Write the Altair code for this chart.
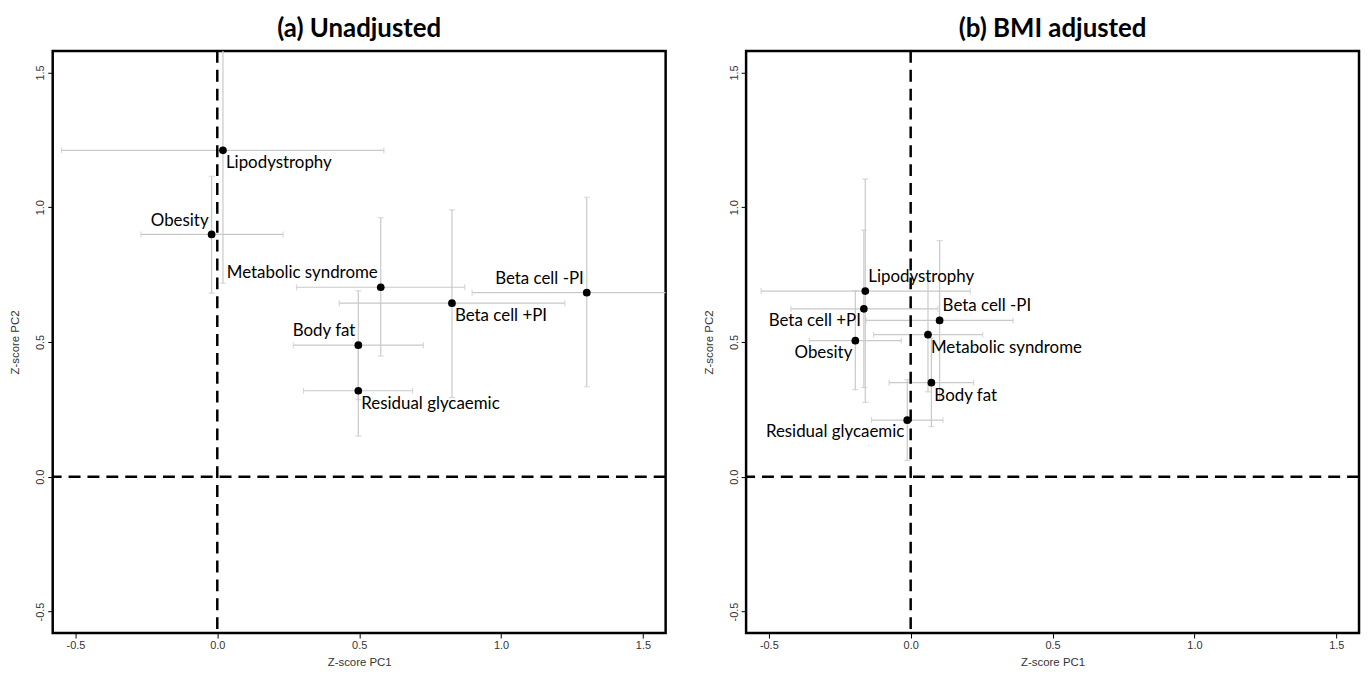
import altair as alt
import pandas as pd

# ---------------- data ----------------
names = ["Lipodystrophy", "Obesity", "Metabolic syndrome", "Beta cell +PI",
         "Beta cell -PI", "Body fat", "Residual glycaemic"]

# (a) Unadjusted
pc1_a = [0.020, -0.020, 0.576, 0.827, 1.302, 0.497, 0.497]
pc1_lo_a = [-0.549, -0.269, 0.279, 0.430, 0.898, 0.268, 0.304]
pc1_hi_a = [0.587, 0.232, 0.872, 1.225, 1.706, 0.726, 0.688]
pc2_a = [1.211, 0.899, 0.703, 0.644, 0.683, 0.488, 0.319]
pc2_lo_a = [0.718, 0.681, 0.448, 0.294, 0.334, 0.286, 0.151]
pc2_hi_a = [1.704, 1.115, 0.961, 0.990, 1.037, 0.690, 0.487]
pos_a = ["below-right", "above-left", "above-left", "below-right",
         "above-left", "above-left", "below-right"]

# (b) BMI adjusted
pc1_b = [-0.160, -0.195, 0.061, -0.165, 0.102, 0.073, -0.012]
pc1_lo_b = [-0.527, -0.357, -0.131, -0.422, -0.157, -0.076, -0.138]
pc1_hi_b = [0.210, -0.033, 0.254, 0.096, 0.361, 0.222, 0.114]
pc2_b = [0.689, 0.505, 0.527, 0.623, 0.580, 0.349, 0.210]
pc2_lo_b = [0.276, 0.323, 0.315, 0.331, 0.286, 0.186, 0.060]
pc2_hi_b = [1.105, 0.690, 0.740, 0.915, 0.876, 0.514, 0.360]
pos_b = ["above-right", "below-left", "below-right", "below-left",
         "above-right", "below-right", "below-left"]

tick_values = [-0.5, 0.0, 0.5, 1.0, 1.5]
domain = [-0.58, 1.58]

AXIS_FONT = "Liberation Sans Narrow, Liberation Sans, Arial"
LABEL_FONT = "Lato"
W, H = 617, 586


def panel(title, pc1, lo1, hi1, pc2, lo2, hi2, pos):
    df = pd.DataFrame({"name": names, "pc1": pc1, "pc1_lo": lo1, "pc1_hi": hi1,
                       "pc2": pc2, "pc2_lo": lo2, "pc2_hi": hi2, "pos": pos})
    xs = alt.Scale(domain=domain, nice=False, zero=False)
    ys = alt.Scale(domain=domain, nice=False, zero=False)
    label_expr = "replace(format(datum.value, '.1f'), '\u2212', '-')"
    xax = alt.Axis(values=tick_values, labelExpr=label_expr, title="Z-score PC1")
    yax = alt.Axis(values=tick_values, labelExpr=label_expr, title="Z-score PC2",
                   labelAngle=-90)
    base = alt.Chart(df)
    X = alt.X("pc1:Q", scale=xs, axis=xax)
    Y = alt.Y("pc2:Q", scale=ys, axis=yax)

    grey = "#c9c9c9"
    hbar = base.mark_rule(color=grey, strokeWidth=1.2, clip=True).encode(
        x=alt.X("pc1_lo:Q", scale=xs, axis=xax), x2="pc1_hi:Q", y=Y)
    vbar = base.mark_rule(color=grey, strokeWidth=1.2, clip=True).encode(
        x=X, y=alt.Y("pc2_lo:Q", scale=ys, axis=yax), y2="pc2_hi:Q")
    caps = []
    for f in ["pc1_lo", "pc1_hi"]:
        caps.append(base.mark_tick(color=grey, orient="vertical", size=6,
                                   thickness=1.2, clip=True).encode(
            x=alt.X(f + ":Q", scale=xs, axis=xax), y=Y))
    for f in ["pc2_lo", "pc2_hi"]:
        caps.append(base.mark_tick(color=grey, orient="horizontal", size=6,
                                   thickness=1.2, clip=True).encode(
            x=X, y=alt.Y(f + ":Q", scale=ys, axis=yax)))

    vline = alt.Chart(pd.DataFrame({"v": [0.0]})).mark_rule(
        color="black", strokeWidth=2.5, strokeDash=[12, 7]).encode(
        x=alt.X("v:Q", scale=xs, axis=xax))
    hline = alt.Chart(pd.DataFrame({"v": [0.0]})).mark_rule(
        color="black", strokeWidth=2.5, strokeDash=[12, 7]).encode(
        y=alt.Y("v:Q", scale=ys, axis=yax))

    pts = base.mark_circle(color="black", opacity=1, size=60).encode(x=X, y=Y)

    texts = []
    for p, align, dx, dy in [("above-left", "right", -3, -14),
                             ("above-right", "left", 3, -14),
                             ("below-left", "right", -3, 12),
                             ("below-right", "left", 3, 13)]:
        texts.append(base.transform_filter(alt.datum.pos == p).mark_text(
            align=align, baseline="middle", dx=dx, dy=dy, font=LABEL_FONT,
            fontSize=17, color="black").encode(x=X, y=Y, text="name:N"))

    return alt.layer(hbar, vbar, *caps, vline, hline, pts, *texts).properties(
        width=W, height=H,
        title=alt.TitleParams(title, font=LABEL_FONT, fontSize=26, fontWeight="bold",
                              anchor="middle", offset=8, color="black"))


left = panel("(a) Unadjusted", pc1_a, pc1_lo_a, pc1_hi_a, pc2_a, pc2_lo_a, pc2_hi_a, pos_a)
right = panel("(b) BMI adjusted", pc1_b, pc1_lo_b, pc1_hi_b, pc2_b, pc2_lo_b, pc2_hi_b, pos_b)

chart = alt.hconcat(left, right, spacing=33).properties(
    padding={"left": 0, "top": 4, "right": 0, "bottom": 0}
).configure_view(
    stroke="black", strokeWidth=2.5
).configure_axis(
    grid=False, domain=False, ticks=True, tickColor="black", tickSize=5,
    tickWidth=1, labelFont=AXIS_FONT, labelFontSize=11, labelColor="#333333",
    labelPadding=2, titleFont=AXIS_FONT, titleFontSize=11.5,
    titleFontWeight="normal", titleColor="#333333", titlePadding=14
).configure_axisX(titlePadding=6)

chart.save("out.html", embed_options={"renderer": "svg", "actions": False})
